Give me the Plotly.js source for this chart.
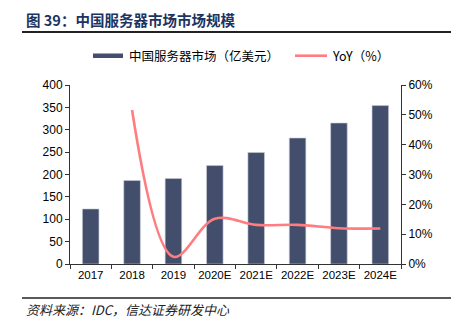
<!DOCTYPE html>
<html><head><meta charset="utf-8">
<script src="https://cdn.plot.ly/plotly-3.0.1.min.js"></script>
<style>html,body{margin:0;padding:0;background:#fff}#c{width:464px;height:326px}</style>
</head><body><div id="c"></div>
<script>
const categories = ['2017','2018','2019','2020E','2021E','2022E','2023E','2024E'];
const marketSize = [123, 186.5, 191, 220, 249, 281.5, 315, 354];
const yoy = [null, 51.6, 2.4, 15.2, 13.1, 13.1, 12.0, 11.9];
const titleText = '图 39：中国服务器市场市场规模';
const barName = '中国服务器市场（亿美元）';
const lineName = 'YoY（%）';
const sourceText = '资料来源：IDC，信达证券研发中心';

const L = 70, R = 401, T = 85, B = 264;
const px = x => (x - L) / (R - L);
const py = y => (B - y) / (B - T);
const barColor = '#434d6c', lineColor = '#ff7c80';
const cjk = '"Noto Sans CJK SC", "Liberation Sans", Arial, sans-serif';
const lat = '"Liberation Sans", Arial, sans-serif';

const data = [
  {type:'bar', x:categories, y:marketSize, name:barName, marker:{color:barColor, line:{color:'#c9ccd8', width:0.6}}, yaxis:'y', hoverinfo:'skip'},
  {type:'scatter', mode:'lines', x:categories, y:yoy, name:lineName, yaxis:'y2', line:{color:lineColor, width:2.6, shape:'spline', smoothing:1}, connectgaps:false, hoverinfo:'skip'}
];
const axisCommon = {showgrid:false, zeroline:false, showline:true, linecolor:'#333', linewidth:1, ticks:'outside', ticklen:4, tickcolor:'#333', tickfont:{family:lat, size:12, color:'#000'}};
const layout = {
  width:464, height:326, margin:{l:L, r:464-R, t:T, b:326-B}, paper_bgcolor:'#fff', plot_bgcolor:'#fff',
  showlegend:false, bargap:0.6,
  xaxis:Object.assign({}, axisCommon, {type:'category', tickson:'boundaries', ticklen:4, tickangle:0, automargin:false, tickfont:{family:lat, size:11.5, color:'#000'}}),
  yaxis:Object.assign({}, axisCommon, {range:[0,400], dtick:50, tickmode:'linear', tick0:0}),
  yaxis2:Object.assign({}, axisCommon, {overlaying:'y', side:'right', range:[0,60], dtick:10, tickmode:'linear', tick0:0, ticksuffix:'%'}),
  shapes:[
    {type:'line', xref:'paper', yref:'paper', x0:px(22), x1:px(451), y0:py(32), y1:py(32), line:{color:'#222', width:2}},
    {type:'line', xref:'paper', yref:'paper', x0:px(22), x1:px(451), y0:py(298), y1:py(298), line:{color:'#222', width:1.5}},
    {type:'rect', xref:'paper', yref:'paper', x0:px(93), x1:px(123), y0:py(58), y1:py(53.5), fillcolor:barColor, line:{width:0}},
    {type:'line', xref:'paper', yref:'paper', x0:px(295), x1:px(327), y0:py(55.7), y1:py(55.7), line:{color:lineColor, width:2.6}}
  ],
  annotations:[
    {text:'<b>'+titleText+'</b>', xref:'paper', yref:'paper', x:px(24), y:py(19), xanchor:'left', yanchor:'middle', showarrow:false, font:{family:cjk, size:14.5, color:'#1d3461'}},
    {text:barName, xref:'paper', yref:'paper', x:px(127), y:py(56), xanchor:'left', yanchor:'middle', showarrow:false, font:{family:cjk, size:12.5, color:'#000'}},
    {text:lineName, xref:'paper', yref:'paper', x:px(330), y:py(56), xanchor:'left', yanchor:'middle', showarrow:false, font:{family:cjk, size:12.5, color:'#000'}},
    {text:'<i>'+sourceText+'</i>', xref:'paper', yref:'paper', x:px(24), y:py(309), xanchor:'left', yanchor:'middle', showarrow:false, font:{family:cjk, size:13, color:'#222'}}
  ]
};
Plotly.newPlot('c', data, layout, {staticPlot:true, displayModeBar:false});
</script></body></html>
